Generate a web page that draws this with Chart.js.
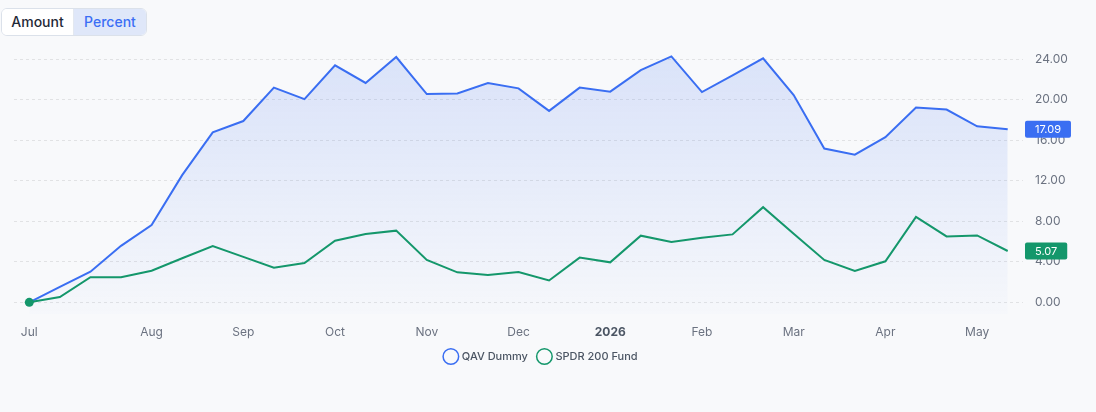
<!DOCTYPE html>
<html>
<head>
<meta charset="utf-8">
<script src="https://cdn.jsdelivr.net/npm/chart.js@4.4.1/dist/chart.umd.min.js"></script>
<style>
  html, body { margin: 0; padding: 0; background: #f8f9fb; width: 1096px; height: 412px; overflow: hidden; font-family: Inter, "Noto Sans", sans-serif; }
  .seg { position: absolute; left: 1px; top: 8px; height: 26px; display: flex; border: 1px solid #dbe1ea; border-radius: 6px; overflow: hidden; background: #fff; z-index: 2; }
  .seg div { font-size: 14px; line-height: 26px; text-align: center; }
  .seg .a { color: #1f2937; background: #fff; border-right: 1px solid #e3e8f0; width: 71px; font-weight: 500; }
  .seg .p { color: #3b6ef5; background: #dfe7f9; width: 72px; font-weight: 500; }
  #wrap { position: absolute; left: 0; top: 35px; width: 1088px; height: 377px; }
</style>
</head>
<body>
<div class="seg"><div class="a">Amount</div><div class="p">Percent</div></div>
<div id="wrap"><canvas id="c"></canvas></div>
<script>
const categories = ['2025-07-01','2025-07-08','2025-07-16','2025-07-24','2025-08-01','2025-08-11','2025-08-21','2025-09-01','2025-09-11','2025-09-21','2025-10-01','2025-10-11','2025-10-21','2025-11-01','2025-11-11','2025-11-21','2025-12-01','2025-12-11','2025-12-21','2026-01-01','2026-01-11','2026-01-21','2026-02-01','2026-02-11','2026-02-21','2026-03-01','2026-03-11','2026-03-21','2026-04-01','2026-04-11','2026-04-21','2026-05-01','2026-05-11'];
const xTickLabels = ['Jul','','','','Aug','','','Sep','','','Oct','','','Nov','','','Dec','','','2026','','','Feb','','','Mar','','','Apr','','','May',''];
const qavDummy = [0, 1.53, 3.02, 5.58, 7.64, 12.56, 16.78, 17.9, 21.2, 20.07, 23.4, 21.66, 24.22, 20.56, 20.63, 21.66, 21.13, 18.9, 21.2, 20.8, 22.92, 24.28, 20.76, 22.4, 24.09, 20.47, 15.18, 14.58, 16.31, 19.24, 19.04, 17.38, 17.09];
const spdr200 = [0, 0.53, 2.49, 2.49, 3.12, 4.35, 5.55, 4.49, 3.42, 3.89, 6.08, 6.74, 7.08, 4.19, 2.96, 2.69, 2.99, 2.16, 4.42, 3.95, 6.58, 5.95, 6.38, 6.71, 9.40, 6.78, 4.19, 3.09, 4.05, 8.44, 6.51, 6.61, 5.07];
const seriesNames = ['QAV Dummy', 'SPDR 200 Fund'];
const yTicks = [0, 4, 8, 12, 16, 20, 24];

const BLUE = '#3a6ef2';
const GREEN = '#14976b';
const FONT = 'Inter, "Noto Sans", sans-serif';

const badgePlugin = {
  id: 'badges',
  afterDatasetsDraw(chart) {
    const ctx = chart.ctx;
    const ys = chart.scales.y;
    const area = chart.chartArea;
    chart.data.datasets.forEach(ds => {
      const v = ds.data[ds.data.length - 1];
      const y = ys.getPixelForValue(v);
      const txt = v.toFixed(2);
      ctx.save();
      ctx.font = '11px ' + FONT;
      const w = ctx.measureText(txt).width + 20;
      const h = 17;
      const x = area.right + 2;
      ctx.fillStyle = ds.borderColor;
      ctx.beginPath();
      ctx.roundRect(x, y - h / 2, w, h, 2);
      ctx.fill();
      ctx.fillStyle = '#ffffff';
      ctx.textBaseline = 'middle';
      ctx.textAlign = 'left';
      ctx.fillText(txt, x + 10, y + 0.5);
      ctx.restore();
    });
  }
};

const ctx = document.getElementById('c').getContext('2d');
new Chart(ctx, {
  type: 'line',
  data: {
    labels: categories,
    datasets: [
      {
        label: seriesNames[0],
        data: qavDummy,
        borderColor: BLUE,
        borderWidth: 2,
        pointRadius: 0,
        tension: 0,
        fill: 'start',
        backgroundColor: (c) => {
          const a = c.chart.chartArea;
          if (!a) return 'rgba(58,110,242,0.12)';
          const g = c.chart.ctx.createLinearGradient(0, a.top, 0, a.bottom);
          g.addColorStop(0, 'rgba(58,110,242,0.16)');
          g.addColorStop(1, 'rgba(58,110,242,0.01)');
          return g;
        },
        order: 2
      },
      {
        label: seriesNames[1],
        data: spdr200,
        borderColor: GREEN,
        backgroundColor: GREEN,
        borderWidth: 2,
        pointRadius: (c) => c.dataIndex === 0 ? 4.5 : 0,
        pointBackgroundColor: GREEN,
        pointBorderWidth: 0,
        tension: 0,
        fill: false,
        order: 1
      }
    ]
  },
  options: {
    responsive: true,
    maintainAspectRatio: false,
    animation: false,
    layout: { padding: { top: 5, right: 19, left: 14, bottom: 40 } },
    plugins: {
      tooltip: { enabled: false },
      legend: {
        position: 'bottom',
        labels: {
          usePointStyle: true,
          pointStyle: 'circle',
          boxWidth: 11,
          boxHeight: 11,
          padding: 11,
          color: '#4b5563',
          font: { family: FONT, size: 11, weight: '500' },
          generateLabels: (chart) => chart.data.datasets.map((ds, i) => ({
            text: ds.label,
            fillStyle: 'rgba(0,0,0,0)',
            strokeStyle: ds.borderColor,
            lineWidth: 1.5,
            pointStyle: 'circle',
            hidden: false,
            datasetIndex: i,
            fontColor: '#4b5563'
          }))
        }
      }
    },
    scales: {
      x: {
        type: 'category',
        offset: true,
        grid: { display: false, drawTicks: false },
        border: { display: false },
        afterFit: (s) => { s.height = 25.5; },
        ticks: {
          autoSkip: false,
          maxRotation: 0,
          padding: 11,
          color: (c) => xTickLabels[c.index] === '2026' ? '#4b5563' : '#6b7280',
          font: (c) => ({ family: FONT, size: 12, weight: xTickLabels[c.index] === '2026' ? 'bold' : 'normal' }),
          callback: (v, i) => xTickLabels[i]
        }
      },
      y: {
        position: 'right',
        min: -1.2,
        max: 24.5,
        grid: { color: 'rgba(0,0,0,0.09)', drawTicks: false, lineWidth: 1 },
        border: { display: false, dash: [3, 3] },
        afterBuildTicks: (s) => { s.ticks = yTicks.map(v => ({ value: v })); },
        afterFit: (s) => { s.width = 46; },
        ticks: {
          padding: 12,
          color: '#6b7280',
          font: { family: FONT, size: 12 },
          callback: (v) => Number(v).toFixed(2)
        }
      }
    }
  },
  plugins: [badgePlugin]
});
</script>
</body>
</html>
